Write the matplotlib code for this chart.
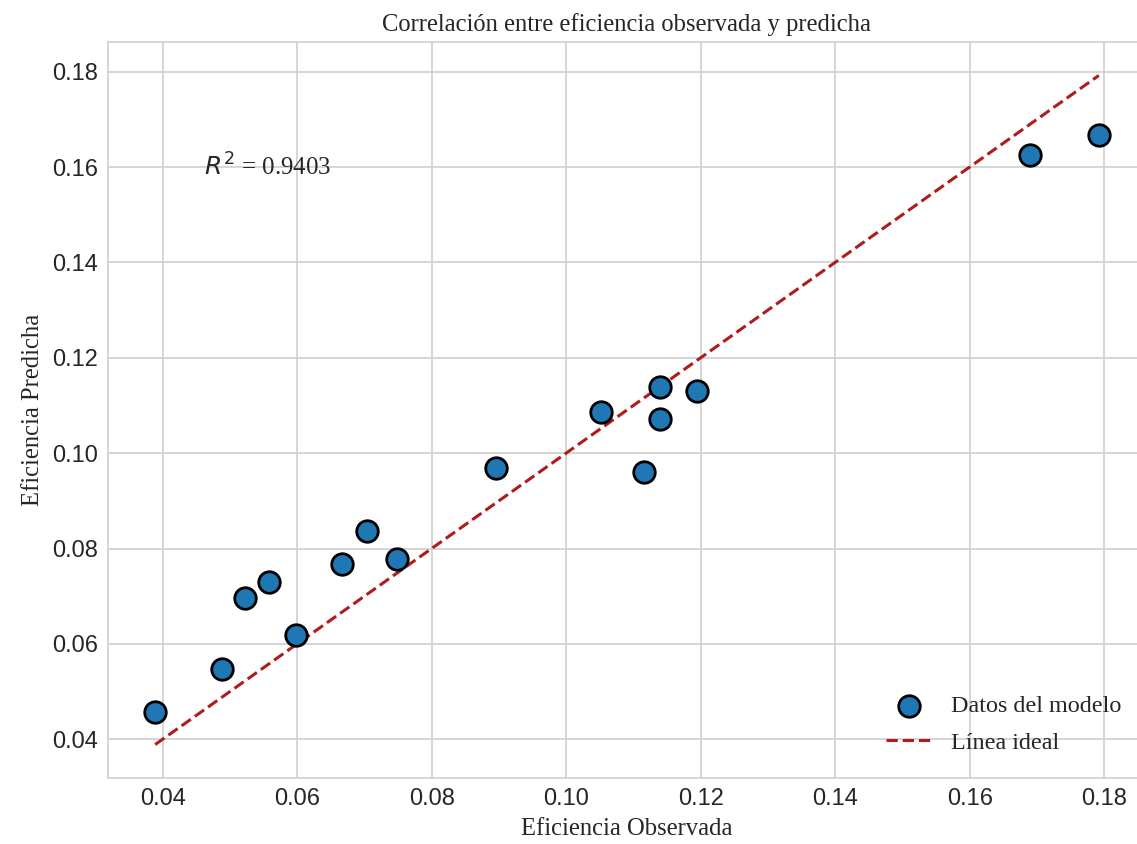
import numpy as np
import matplotlib
matplotlib.use('Agg')
import matplotlib.pyplot as plt
import seaborn as sns

# Observed vs predicted efficiency
observada = [0.0389, 0.0489, 0.0523, 0.0558, 0.0598, 0.0667, 0.0704, 0.0749,
             0.0895, 0.1052, 0.1116, 0.1139, 0.1139, 0.1195, 0.1690, 0.1792]
predicha = [0.0457, 0.0547, 0.0696, 0.0729, 0.0618, 0.0767, 0.0836, 0.0779,
            0.0968, 0.1086, 0.0960, 0.1138, 0.1071, 0.1130, 0.1626, 0.1668]
r2 = 0.9403

sns.set_style('whitegrid')
plt.rcParams['font.family'] = ['Liberation Sans', 'DejaVu Sans']

fig = plt.figure(figsize=(11.37, 8.44), dpi=100)
ax = fig.add_axes([108 / 1137, 66 / 844, 1038 / 1137, 736 / 844])

serif = ['Liberation Serif', 'DejaVu Serif']

ax.scatter(observada, predicha, s=240, color='#1f77b4', edgecolor='black',
           linewidth=2, zorder=3, label='Datos del modelo')
lims = [min(observada), max(observada)]
ax.plot(lims, lims, linestyle='--', color='#b01c1c', linewidth=2.2,
        label='Línea ideal', zorder=2)

ax.text(0.0462, 0.1600, r'$R^2$ = %.4f' % r2, fontsize=18, family=serif,
        va='center', ha='left')

ax.set_title('Correlación entre eficiencia observada y predicha',
             fontsize=17.7, family=serif, pad=8)
ax.set_xlabel('Eficiencia Observada', fontsize=17.7, family=serif, labelpad=6)
ax.set_ylabel('Eficiencia Predicha', fontsize=17.7, family=serif, labelpad=6)

ax.set_xticks([0.04, 0.06, 0.08, 0.10, 0.12, 0.14, 0.16, 0.18])
ax.set_yticks([0.04, 0.06, 0.08, 0.10, 0.12, 0.14, 0.16, 0.18])
ax.tick_params(axis='both', labelsize=17, colors='#262626')

ax.grid(True, color='#d0d0d0', linewidth=1.2)
for sp in ax.spines.values():
    sp.set_color('#d0d0d0')
    sp.set_linewidth(1.2)

ax.legend(loc='lower right', frameon=False, prop={'family': serif, 'size': 17.4},
          handlelength=1.9, labelspacing=0.6, borderaxespad=0.6)

plt.savefig('out.png', dpi=100)
